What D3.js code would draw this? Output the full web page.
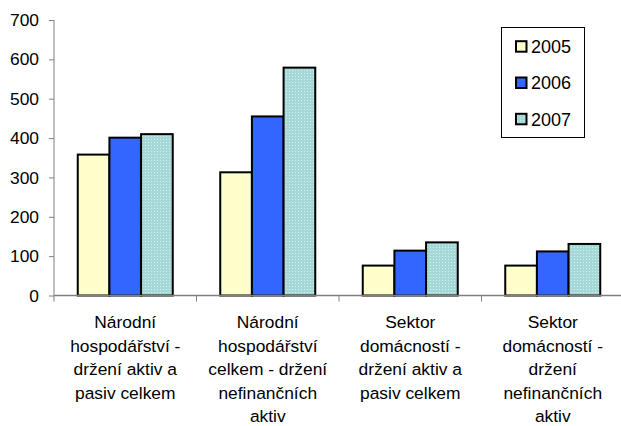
<!DOCTYPE html>
<html>
<head>
<meta charset="utf-8">
<script src="https://cdn.jsdelivr.net/npm/d3@7"></script>
<style>
  html, body { margin: 0; padding: 0; background: #fff; }
  svg { display: block; font-family: "Liberation Sans", Arial, sans-serif; }
</style>
</head>
<body>
<svg id="chart" width="621" height="426"></svg>
<script>
// Categories (each label split into its wrapped lines)
const categories = [
  ["Národní", "hospodářství -", "držení aktiv a", "pasiv celkem"],
  ["Národní", "hospodářství", "celkem - držení", "nefinančních", "aktiv"],
  ["Sektor", "domácností -", "držení aktiv a", "pasiv celkem"],
  ["Sektor", "domácností -", "držení", "nefinančních", "aktiv"]
];
const years = ["2005", "2006", "2007"];
const values2005 = [358, 313, 76, 76];
const values2006 = [401, 455, 114, 112];
const values2007 = [410, 579, 135, 131];
const yTicks = [0, 100, 200, 300, 400, 500, 600, 700];

const series = [values2005, values2006, values2007];
const fills = ["#FFFFCC", "#3366FF", "url(#dots)"];

const svg = d3.select("#chart");

// dotted light-teal fill for the 2007 series
const defs = svg.append("defs");
const pat = defs.append("pattern")
  .attr("id", "dots").attr("width", 3).attr("height", 3)
  .attr("patternUnits", "userSpaceOnUse");
pat.append("rect").attr("width", 3).attr("height", 3).attr("fill", "#A6D8D8");
pat.append("rect").attr("x", 1).attr("y", 1).attr("width", 1).attr("height", 1).attr("fill", "#D4F0F0");

const plot = { left: 54, right: 624, top: 20, bottom: 295.5 };

const x = d3.scaleBand().domain(d3.range(categories.length)).range([plot.left, plot.right]).padding(0);
const y = d3.scaleLinear().domain([0, 700]).range([plot.bottom, plot.top]);

const barW = x.bandwidth() / 4.5;
const groupOffset = barW * 0.75;

// y axis
const yAxis = svg.append("g")
  .attr("transform", `translate(${plot.left},0)`)
  .call(d3.axisLeft(y).tickValues(yTicks).tickSize(5).tickPadding(10).tickSizeOuter(0));
yAxis.select(".domain").attr("stroke", "#808080").attr("d", `M0,${y(700)}V${plot.bottom}`);
yAxis.selectAll(".tick line").attr("stroke", "#808080");
yAxis.selectAll(".tick text")
  .attr("font-size", "17.4px").attr("fill", "#000")
  .attr("font-family", "'Liberation Sans', Arial, sans-serif");

// bars
series.forEach((vals, si) => {
  svg.append("g").selectAll("rect")
    .data(vals)
    .join("rect")
    .attr("x", (d, i) => x(i) + groupOffset + si * barW)
    .attr("y", d => y(d))
    .attr("width", barW)
    .attr("height", d => plot.bottom - y(d))
    .attr("fill", fills[si])
    .attr("stroke", "#000")
    .attr("stroke-width", 2);
});

// x axis line with ticks at category boundaries
const xAxis = svg.append("g");
xAxis.append("line")
  .attr("x1", plot.left).attr("x2", plot.right)
  .attr("y1", plot.bottom).attr("y2", plot.bottom)
  .attr("stroke", "#808080").attr("stroke-width", 1.3);
xAxis.selectAll("line.tick")
  .data(d3.range(categories.length + 1))
  .join("line")
  .attr("class", "tick")
  .attr("x1", i => i < categories.length ? x(i) : plot.right)
  .attr("x2", i => i < categories.length ? x(i) : plot.right)
  .attr("y1", plot.bottom).attr("y2", plot.bottom + 6)
  .attr("stroke", "#808080");

// category labels
const labels = svg.append("g")
  .attr("font-size", "17.4px").attr("text-anchor", "middle").attr("fill", "#000");
labels.selectAll("text")
  .data(categories)
  .join("text")
  .attr("transform", (d, i) => `translate(${x(i) + x.bandwidth() / 2},328)`)
  .selectAll("tspan")
  .data(d => d)
  .join("tspan")
  .attr("x", 0)
  .attr("y", (d, j) => j * 23.6)
  .text(d => d);

// legend
const legend = svg.append("g");
legend.append("rect")
  .attr("x", 501.5).attr("y", 27.5).attr("width", 83).attr("height", 110)
  .attr("fill", "#fff").attr("stroke", "#000").attr("stroke-width", 1);
const rows = legend.selectAll("g.row")
  .data(years)
  .join("g")
  .attr("class", "row")
  .attr("transform", (d, i) => `translate(0,${46.7 + i * 36.3})`);
rows.append("rect")
  .attr("x", 516).attr("y", -5.5).attr("width", 10.5).attr("height", 10.5)
  .attr("fill", (d, i) => fills[i]).attr("stroke", "#000").attr("stroke-width", 2);
rows.append("text")
  .attr("x", 531).attr("y", 6.3)
  .attr("font-size", "18px").attr("fill", "#000")
  .text(d => d);
</script>
</body>
</html>
